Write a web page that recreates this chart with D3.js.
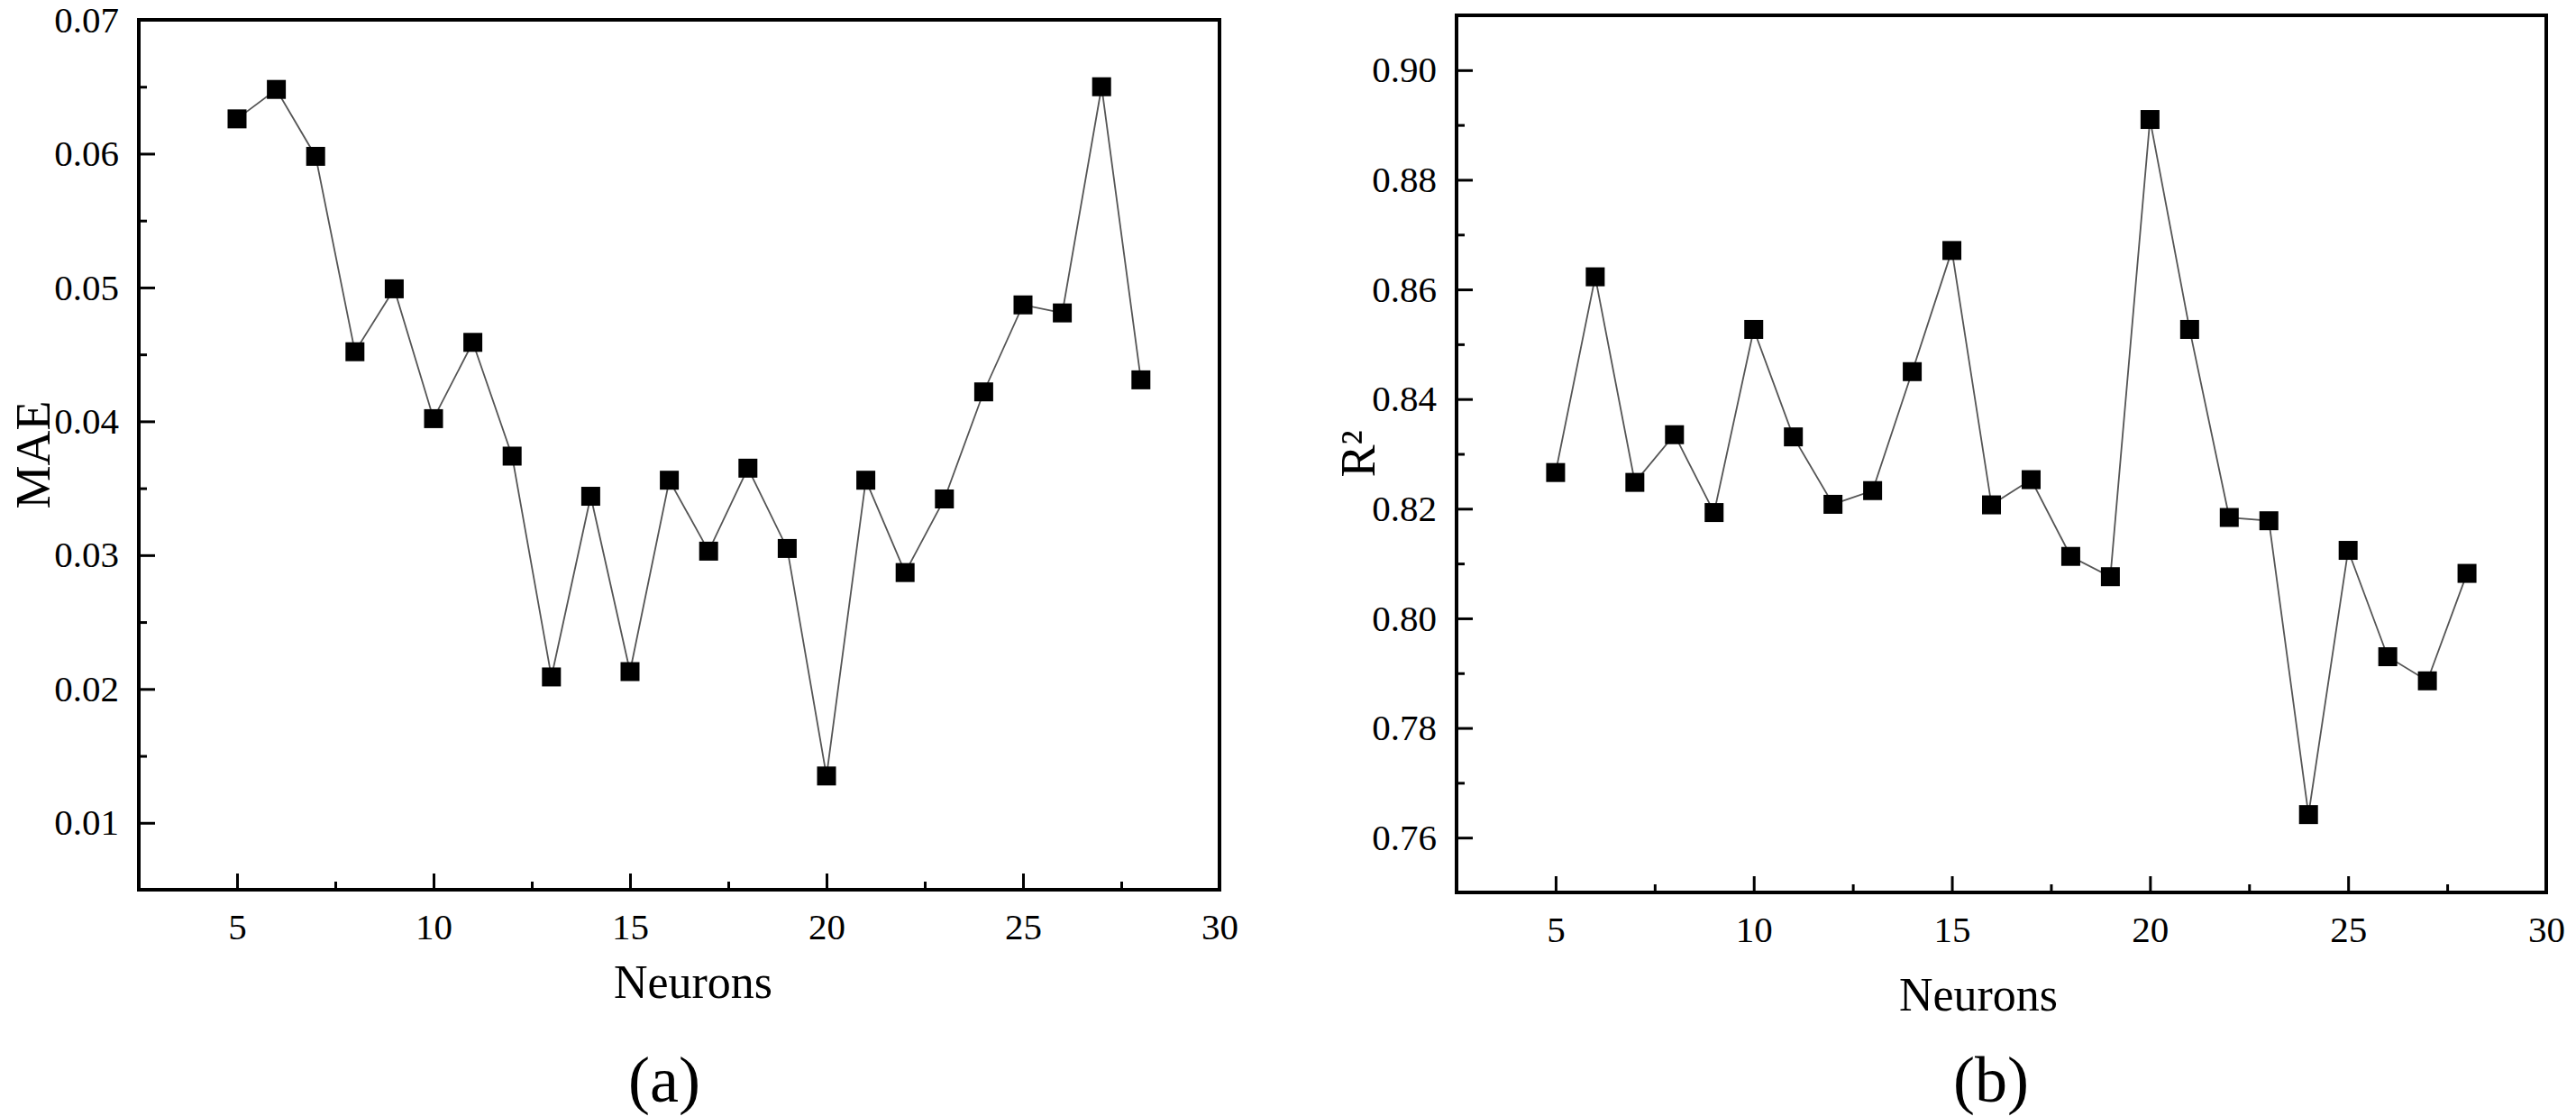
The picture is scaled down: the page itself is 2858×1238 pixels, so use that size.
<!DOCTYPE html>
<html>
<head>
<meta charset="utf-8">
<script src="https://cdn.jsdelivr.net/npm/d3@7"></script>
<style>
  html, body { margin: 0; padding: 0; background: #fff; }
  svg { display: block; }
  text { font-family: "Liberation Serif", "Times New Roman", serif; fill: #000; }
</style>
</head>
<body>
<svg id="chart" width="2858" height="1238"></svg>
<script>
const neurons = [5, 6, 7, 8, 9, 10, 11, 12, 13, 14, 15, 16, 17, 18, 19, 20, 21, 22, 23, 24, 25, 26, 27, 28];

const mae = [0.0626, 0.0648, 0.0598, 0.0452, 0.0499, 0.0402, 0.0459, 0.0374, 0.0209, 0.0344, 0.0213, 0.0356,
             0.0303, 0.0365, 0.0305, 0.0135, 0.0356, 0.0287, 0.0342, 0.0422, 0.0487, 0.0481, 0.0650, 0.0431];

const r2 = [0.8266, 0.8623, 0.8248, 0.8335, 0.8193, 0.8527, 0.8331, 0.8208, 0.8233, 0.8450, 0.8671, 0.8207,
            0.8253, 0.8113, 0.8076, 0.8910, 0.8527, 0.8184, 0.8178, 0.7642, 0.8124, 0.7930, 0.7886, 0.8082];

const xTicks = [5, 10, 15, 20, 25, 30];
const xMinor = [7.5, 12.5, 17.5, 22.5, 27.5];
const maeTicks = [0.01, 0.02, 0.03, 0.04, 0.05, 0.06, 0.07];
const maeMinor = [0.015, 0.025, 0.035, 0.045, 0.055, 0.065];
const r2Ticks = [0.76, 0.78, 0.80, 0.82, 0.84, 0.86, 0.88, 0.90];
const r2Minor = [0.77, 0.79, 0.81, 0.83, 0.85, 0.87, 0.89];

const svg = d3.select("#chart");

const drawPanel = (opt) => {
    let x = d3.scaleLinear().domain([2.5, 30]).range([opt.left, opt.right]);
    let y = d3.scaleLinear().domain(opt.yDomain).range([opt.bottom, opt.top]);
    let g = svg.append("g");

    // major / minor ticks, pointing into the plot
    g.append("g")
        .attr("transform", `translate(0,${opt.bottom})`)
        .call(d3.axisBottom(x).tickValues(xTicks).tickSize(-18).tickPadding(26).tickFormat(d3.format("d")));
    g.append("g")
        .attr("transform", `translate(0,${opt.bottom})`)
        .call(d3.axisBottom(x).tickValues(xMinor).tickSize(-9).tickFormat(""));

    g.append("g")
        .attr("transform", `translate(${opt.left},0)`)
        .call(d3.axisLeft(y).tickValues(opt.yTicks).tickSize(-18).tickPadding(22).tickFormat(d3.format(".2f")));
    g.append("g")
        .attr("transform", `translate(${opt.left},0)`)
        .call(d3.axisLeft(y).tickValues(opt.yMinor).tickSize(-9).tickFormat(""));

    g.selectAll(".domain").remove();
    g.selectAll(".tick line").attr("stroke", "#000").attr("stroke-width", 3);
    g.selectAll(".tick text").attr("font-size", 41).attr("font-family", "Liberation Serif");

    g.append("rect")
        .attr("x", opt.left)
        .attr("y", opt.top)
        .attr("width", opt.right - opt.left)
        .attr("height", opt.bottom - opt.top)
        .attr("fill", "none")
        .attr("stroke", "#000")
        .attr("stroke-width", 4);

    let pts = neurons.map((n, i) => ({ n: n, v: opt.values[i] }));

    g.append("path")
        .datum(pts)
        .attr("fill", "none")
        .attr("stroke", "#555")
        .attr("stroke-width", 1.8)
        .attr("d", d3.line().x(d => x(d.n)).y(d => y(d.v)));

    g.selectAll("rect.marker")
        .data(pts)
        .enter().append("rect")
        .attr("class", "marker")
        .attr("x", d => x(d.n) - 10.5)
        .attr("y", d => y(d.v) - 10.5)
        .attr("width", 21)
        .attr("height", 21)
        .attr("fill", "#000");

    g.append("text")
        .attr("x", opt.xTitleX)
        .attr("y", opt.xTitleY)
        .attr("text-anchor", "middle")
        .attr("font-size", 52)
        .text("Neurons");

    g.append("text")
        .attr("transform", `translate(${opt.yTitleX},${(opt.top + opt.bottom) / 2}) rotate(-90)`)
        .attr("text-anchor", "middle")
        .attr("dy", "0.35em")
        .attr("font-size", 54)
        .text(opt.yTitle);

    g.append("text")
        .attr("x", opt.letterX)
        .attr("y", 1222)
        .attr("text-anchor", "middle")
        .attr("font-size", 72)
        .text(opt.letter);
}

drawPanel({
    left: 154, right: 1353, top: 22, bottom: 987,
    yDomain: [0.005, 0.07], yTicks: maeTicks, yMinor: maeMinor,
    values: mae, yTitle: "MAE", yTitleX: 36,
    xTitleX: 769, xTitleY: 1107, letter: "(a)", letterX: 737
});

drawPanel({
    left: 1616, right: 2825, top: 17, bottom: 990,
    yDomain: [0.75, 0.91], yTicks: r2Ticks, yMinor: r2Minor,
    values: r2, yTitle: "R²", yTitleX: 1506,
    xTitleX: 2195, xTitleY: 1121, letter: "(b)", letterX: 2209
});
</script>
</body>
</html>
